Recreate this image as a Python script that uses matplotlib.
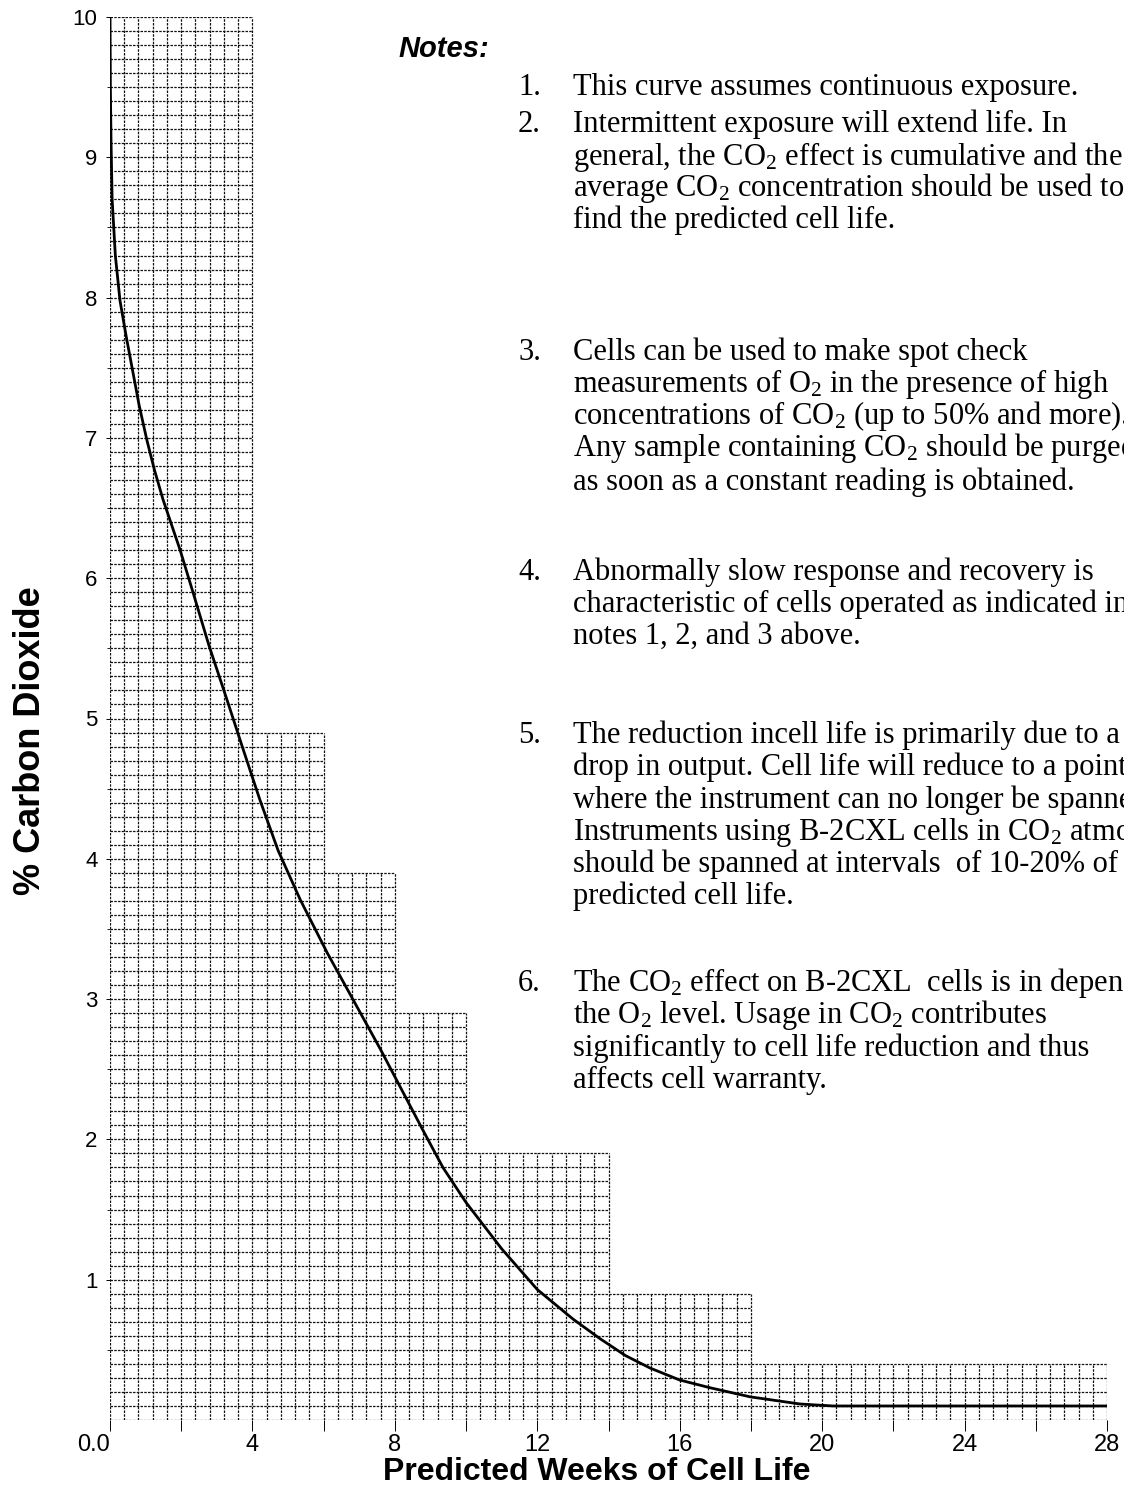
import numpy as np
import matplotlib
matplotlib.use('Agg')
import matplotlib.pyplot as plt

plt.rcParams['font.family'] = ['Liberation Sans', 'DejaVu Sans']
plt.rcParams['mathtext.fontset'] = 'custom'
plt.rcParams['mathtext.rm'] = 'Liberation Serif'
plt.rcParams['mathtext.it'] = 'Liberation Serif:italic'
plt.rcParams['mathtext.bf'] = 'Liberation Serif:bold'

# curve
weeks = [0.0, 0.01, 0.03, 0.06, 0.15, 0.28, 0.45, 0.62, 0.82, 1.04, 1.25, 1.49,
         1.97, 2.33, 2.78, 3.29, 3.74, 4.21, 4.72, 5.34, 6.1, 6.97, 7.6, 8.2,
         8.8, 9.35, 10.0, 11.0, 12.0, 13.0, 13.76, 14.47, 15.17, 16.0, 16.85,
         17.98, 19.38, 20.3, 22.0, 24.0, 26.0, 28.0]
co2_pct = [10.0, 9.5, 9.1, 8.7, 8.3, 7.98, 7.73, 7.5, 7.23, 6.98, 6.77, 6.56,
           6.2, 5.9, 5.52, 5.13, 4.78, 4.42, 4.06, 3.71, 3.33, 2.93, 2.64, 2.35,
           2.06, 1.8, 1.55, 1.22, 0.93, 0.72, 0.58, 0.46, 0.37, 0.285, 0.23,
           0.165, 0.114, 0.10, 0.10, 0.10, 0.10, 0.10]

# staircase of the printed graph paper
step_edges = [0, 4, 6, 8, 10, 14, 18, 28]
step_tops = [10, 4.9, 3.9, 2.9, 1.9, 0.9, 0.4]

x_ticks = [0, 4, 8, 12, 16, 20, 24, 28]
x_tick_labels = ['0.0', '4', '8', '12', '16', '20', '24', '28']
y_ticks = [1, 2, 3, 4, 5, 6, 7, 8, 9, 10]

notes_title = 'Notes:'
note_numbers = ['1.', '2.', '3.', '4.', '5.', '6.']
note_lines = [
    ['This curve assumes continuous exposure.'],
    ['Intermittent exposure will extend life. In',
     'general, the CO$_2$ effect is cumulative and the',
     'average CO$_2$ concentration should be used to',
     'find the predicted cell life.'],
    ['Cells can be used to make spot check',
     'measurements of O$_2$ in the presence of high',
     'concentrations of CO$_2$ (up to 50% and more).',
     'Any sample containing CO$_2$ should be purged',
     'as soon as a constant reading is obtained.'],
    ['Abnormally slow response and recovery is',
     'characteristic of cells operated as indicated in',
     'notes 1, 2, and 3 above.'],
    ['The reduction incell life is primarily due to a',
     'drop in output. Cell life will reduce to a point',
     'where the instrument can no longer be spanned.',
     'Instruments using B-2CXL cells in CO$_2$ atmosphere',
     'should be spanned at intervals  of 10-20% of the',
     'predicted cell life.'],
    ['The CO$_2$ effect on B-2CXL  cells is in dependent on',
     'the O$_2$ level. Usage in CO$_2$ contributes',
     'significantly to cell life reduction and thus',
     'affects cell warranty.'],
]

# pixel layout (figure is 1124 x 1496)
W, H = 1124, 1496
note_line_y = [[87], [124, 157, 188, 220], [352, 384, 416, 448, 482],
               [572, 604, 636], [735, 767, 800, 832, 864, 896],
               [983, 1015, 1048, 1080]]

fig = plt.figure(figsize=(W / 100, H / 100), dpi=100)
ax = fig.add_axes([110 / W, 1 - 1420 / H, 997 / W, 1403 / H])
ax.set_xlim(0, 28)
ax.set_ylim(0, 10)
for s in ax.spines.values():
    s.set_visible(False)

# graph paper grid, clipped to the staircase
gx = np.round(np.arange(0, 28 + 1e-9, 0.4), 6)
gy = np.round(np.arange(0, 10 + 1e-9, 0.1), 6)
v_heights = []
for x in gx:
    h = max(t for lo, hi, t in zip(step_edges[:-1], step_edges[1:], step_tops)
            if lo - 1e-9 <= x <= hi + 1e-9)
    v_heights.append(h)
h_extents = []
for y in gy:
    e = max(hi for hi, t in zip(step_edges[1:], step_tops) if t >= y - 1e-9)
    h_extents.append(e)

grid_style = dict(colors='#111111', linestyles=(0, (2.0, 1.0)), linewidth=0.9)
ax.vlines(gx, 0, v_heights, **grid_style)
ax.hlines(gy, 0, h_extents, **grid_style)

ax.plot(weeks, co2_pct, color='black', linewidth=2.0, solid_capstyle='round',
        solid_joinstyle='round')

ax.set_xticks(x_ticks, x_tick_labels, fontsize=17)
ax.set_xticks(np.arange(2, 28, 4), minor=True)
ax.tick_params(axis='x', which='both', direction='out', length=8, width=0.7, pad=2)
ax.get_xticklabels()[0].set_horizontalalignment('right')

ax.set_yticks(y_ticks, [str(v) for v in y_ticks], fontsize=16)
ax.set_yticks(np.arange(0.5, 10, 1.0), minor=True)
ax.tick_params(axis='y', which='major', direction='out', length=3, width=0.7, pad=6)
ax.tick_params(axis='y', which='minor', direction='out', length=2, width=0.6)

fig.text(597 / W, 1 - 1472 / H, 'Predicted Weeks of Cell Life', ha='center',
         va='center', fontsize=23, fontweight='bold')
fig.text(31 / W, 1 - 741 / H, '% Carbon Dioxide', ha='center', va='center',
         rotation=90, fontsize=26, fontweight='bold')

# notes block
fig.text(398 / W, 1 - 57 / H, notes_title, fontsize=21, fontweight='bold',
         fontstyle='italic', va='baseline')
for num, lines, ys in zip(note_numbers, note_lines, note_line_y):
    fig.text(518 / W, 1 - (ys[0] + 8) / H, num, fontsize=22,
             family=['Liberation Serif'], va='baseline')
    for line, yc in zip(lines, ys):
        fig.text(573 / W, 1 - (yc + 8) / H, line, fontsize=22,
                 family=['Liberation Serif'], va='baseline')

fig.savefig('out.png', dpi=100)
